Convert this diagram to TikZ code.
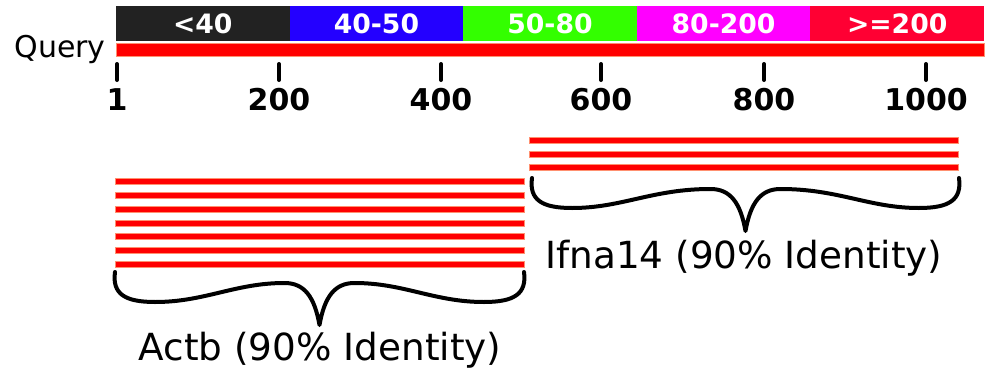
\documentclass[tikz,border=0pt]{standalone}
\usepackage{fontspec}
\setmainfont{DejaVu Sans}
\usepackage{tikz}
\usetikzlibrary{positioning}

\definecolor{id_black}{HTML}{222222}
\definecolor{id_blue}{HTML}{2400FF}
\definecolor{id_green}{HTML}{33FF00}
\definecolor{id_magenta}{HTML}{FF00FF}
\definecolor{id_red}{HTML}{FF0033}
\definecolor{bar_edge}{HTML}{FF9070}

\begin{document}
\begin{tikzpicture}[x=0.75pt,y=-0.75pt,
      leg_box/.style={
         rectangle,
         inner sep=0pt,
         outer sep=0pt,
         minimum width=130.2pt,
         minimum height=26pt,
         text=white,
         font=\fontsize{20}{24}\selectfont\bfseries},
      query_bar/.style={
         rectangle,
         fill=red,
         draw=bar_edge,
         line width=0.4pt,
         inner sep=0pt,
         minimum width=651pt,
         minimum height=9.4pt},
      hit_bar/.style={
         fill=red,
         draw=bar_edge,
         line width=0.4pt},
      tick_lab/.style={
         anchor=base,
         inner sep=0pt,
         font=\fontsize{22.5}{27}\selectfont\bfseries},
      hit_lab/.style={
         anchor=base,
         inner sep=0pt,
         font=\fontsize{28}{34}\selectfont},
      brace_line/.style={
         line width=3pt,
         line cap=round,
         line join=round}
]
      \useasboundingbox (0,0) rectangle (1000,375);

      %identity legend
      \node[leg_box,fill=id_black] (l1) at (202.8,23.3) {<40};
      \node[leg_box,fill=id_blue,right=0pt of l1] (l2) {40-50};
      \node[leg_box,fill=id_green,right=0pt of l2] (l3) {50-80};
      \node[leg_box,fill=id_magenta,right=0pt of l3] (l4) {80-200};
      \node[leg_box,fill=id_red,right=0pt of l4] (l5) {>=200};

      %query
      \node[query_bar] (q) at (550,49.8) {};
      \node[anchor=base east,inner sep=0pt,font=\fontsize{22.5}{27}\selectfont] (qlab) at (106,57) {Query};

    \foreach \x/\txt in {% position/text
      117/1, 279/200, 441/400, 601/600, 764/800, 926/1000}
      {
      \coordinate (t\txt) at (\x,64);
      \draw[line width=3pt,line cap=round] (t\txt) -- ++(0,16);
      \node[tick_lab] (n\txt) at (\x,110) {\txt};
      }

      %hits
     \foreach \i in {0,...,6}
       \filldraw[hit_bar] (115,{178.7+13.7*\i}) rectangle (524,{184.7+13.7*\i});
     \foreach \i in {0,...,2}
       \filldraw[hit_bar] (529,{137.7+13.3*\i}) rectangle (958,{143.7+13.3*\i});

     \foreach \a/\b/\y in {% left/right/top
       115/524/272, 532/959/178}
       \draw[brace_line] (\a,\y)
          .. controls (\a-3,\y+22) and (\a+10,\y+30) .. (\a+40,\y+30)
          .. controls (\a+90,\y+30) and (\a+120,\y+11) .. ({(\a+\b)/2-35},\y+11)
          .. controls ({(\a+\b)/2-15},\y+11) and ({(\a+\b)/2-5},\y+25) .. ({(\a+\b)/2},\y+53)
          .. controls ({(\a+\b)/2+5},\y+25) and ({(\a+\b)/2+15},\y+11) .. ({(\a+\b)/2+35},\y+11)
          .. controls (\b-120,\y+11) and (\b-90,\y+30) .. (\b-40,\y+30)
          .. controls (\b-10,\y+30) and (\b+3,\y+22) .. (\b,\y);

      \node[hit_lab] (actb) at (320,360) {Actb (90\% Identity)};
      \node[hit_lab] (ifna) at (744,268) {Ifna14 (90\% Identity)};
\end{tikzpicture}
\end{document}
